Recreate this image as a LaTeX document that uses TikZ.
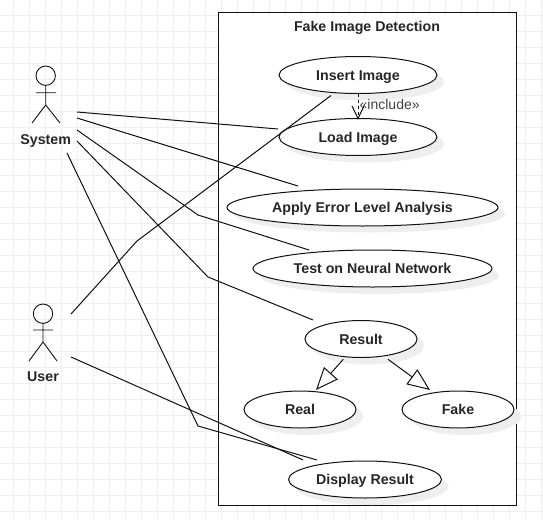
\documentclass[tikz,border=0pt]{standalone}
\usepackage{fontspec}
\setmainfont{Liberation Sans}
\usetikzlibrary{shapes.geometric,arrows.meta}
\definecolor{gridc}{HTML}{EFEFEF}
\definecolor{shadowc}{HTML}{EEEEEE}
\definecolor{inkc}{HTML}{111111}
\tikzset{
  every picture/.style={x=1pt,y=-1pt},
  usecase/.style={ellipse,draw=inkc,fill=white,line width=1pt,inner sep=0pt,outer sep=0pt,
    font=\fontsize{14.2}{16}\selectfont\bfseries,text=black!85,text height=10pt,text depth=0pt,
    minimum width=#1,minimum height=37pt},
  shade/.style={ellipse,fill=shadowc,draw=none,inner sep=0pt,minimum width=#1,minimum height=37pt},
  actorlabel/.style={font=\fontsize{14.2}{16}\selectfont\bfseries,text=black!85,inner sep=0pt,text height=10pt,text depth=0pt},
  assoc/.style={draw=inkc,line width=1pt},
  stick/.style={draw=inkc,line width=0.9pt},
  gen/.style={draw=inkc,line width=1pt,-{Triangle[open,length=22.5pt,width=18.5pt,fill=white]}},
}
\begin{document}
\begin{tikzpicture}
\useasboundingbox (0,0) rectangle (543,519);
\fill[white] (0,0) rectangle (543,519);
% grid
\foreach \k in {0,...,33} \draw[gridc,line width=0.8pt] ({13.3+16*\k},0) -- ({13.3+16*\k},519);
\foreach \k in {0,...,31} \draw[gridc,line width=0.8pt] (0,{15.3+16*\k}) -- (543,{15.3+16*\k});
% system boundary
\fill[black!45] (219,14) rectangle (517,506);
\node[draw=inkc,fill=white,line width=1pt,inner sep=0pt,minimum width=298pt,minimum height=492pt] (boundary) at (367,259) {};
\node[font=\fontsize{14.2}{16}\selectfont\bfseries,text=black!85,inner sep=0pt,text height=10pt,text depth=0pt] (title) at (367,27) {Fake Image Detection};
% shadows
\node[shade=158pt] at (365,82) {};
\node[shade=158pt] at (365,144) {};
\node[shade=271pt] at (369.5,214) {};
\node[shade=239pt] at (379.5,275.5) {};
\node[shade=112pt] at (368,346) {};
\node[shade=112pt] at (307,416.5) {};
\node[shade=112pt] at (465,416.5) {};
\node[shade=153pt] at (372,486.5) {};
% use cases
\node[usecase=158pt] (insert) at (358,75) {Insert Image};
\node[usecase=158pt] (load) at (358,137) {Load Image};
\node[usecase=271pt] (ela) at (362.5,207.5) {Apply Error Level Analysis};
\node[usecase=239pt] (test) at (372.5,268.5) {Test on Neural Network};
\node[usecase=112pt] (result) at (361,339) {Result};
\node[usecase=112pt] (real) at (300,409.5) {Real};
\node[usecase=112pt] (fake) at (458,409.5) {Fake};
\node[usecase=153pt] (display) at (365,479.5) {Display Result};
% actors
\draw[stick] (45.7,75.7) circle (9.7);
\draw[stick] (45.7,85.4) -- (45.7,105) (36,92.7) -- (56,92.7) (32,123) -- (45.7,105) -- (60,123);
\node[actorlabel] (system) at (45.7,139) {System};
\draw[stick] (43,313.7) circle (9.7);
\draw[stick] (43,323.4) -- (43,342) (33,330) -- (53,330) (29,361) -- (43,342) -- (57,361);
\node[actorlabel] (user) at (43,376) {User};
% connector free ends
\coordinate (s1) at (77,112); \coordinate (e1) at (278,129);
\coordinate (s2) at (77,118); \coordinate (e2) at (298,186);
\coordinate (s3) at (77,130); \coordinate (b3) at (198,215); \coordinate (e3) at (309,250);
\coordinate (s4) at (77,141); \coordinate (b4) at (208,277); \coordinate (e4) at (313,320);
\coordinate (s5) at (67,153); \coordinate (b5) at (198,426); \coordinate (e5) at (317,460);
\coordinate (u1) at (71,314); \coordinate (b6) at (137,241); \coordinate (f1) at (331,95.5);
\coordinate (u2) at (71,357); \coordinate (f2) at (303,460);
\draw[assoc] (s1) -- (e1);
\draw[assoc] (s2) -- (e2);
\draw[assoc] (s3) -- (b3) -- (e3);
\draw[assoc] (s4) -- (b4) -- (e4);
\draw[assoc] (s5) -- (b5) -- (e5);
\draw[assoc] (u1) -- (b6) -- (f1);
\draw[assoc] (u2) -- (f2);
% include
\draw[draw=inkc,line width=1pt,dashed,dash pattern=on 3pt off 3pt] (insert.south) -- (load.north);
\coordinate (inca) at (352,106); \coordinate (incb) at (364,106);
\draw[draw=inkc,line width=1pt] (inca) -- (load.north) -- (incb);
\node[font=\fontsize{14}{16}\selectfont,text=black!75,inner sep=0pt,anchor=west] (inclabel) at (359.5,104.5) {«include»};
% generalisations
\coordinate (g1s) at (343.3,359.3); \coordinate (g1e) at (316,390);
\coordinate (g2s) at (388,359.3); \coordinate (g2e) at (430,390);
\draw[gen] (g1s) -- (g1e);
\draw[gen] (g2s) -- (g2e);
\end{tikzpicture}
\end{document}
